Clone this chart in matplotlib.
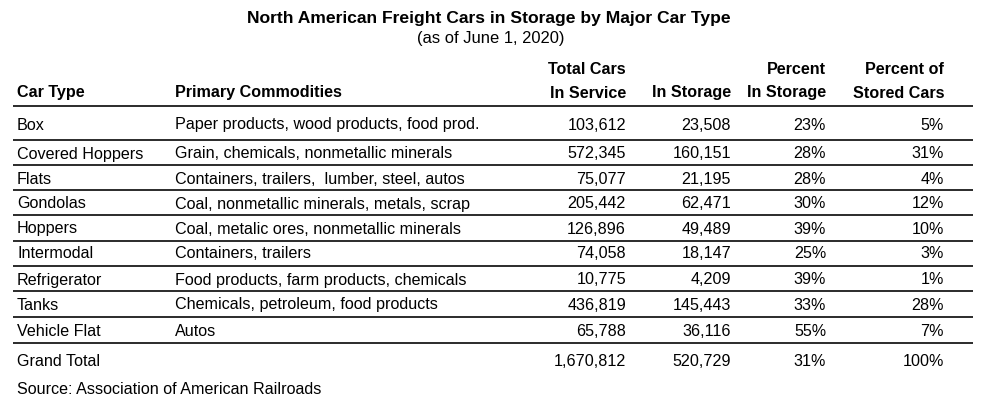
import matplotlib
matplotlib.use("Agg")
import matplotlib.pyplot as plt

plt.rcParams["font.family"] = ["Liberation Sans", "DejaVu Sans"]

title = "North American Freight Cars in Storage by Major Car Type"
subtitle = "(as of June 1, 2020)"
source = "Source: Association of American Railroads"

car_types = ["Box", "Covered Hoppers", "Flats", "Gondolas", "Hoppers",
             "Intermodal", "Refrigerator", "Tanks", "Vehicle Flat"]
commodities = [
    "Paper products, wood products, food prod.",
    "Grain, chemicals, nonmetallic minerals",
    "Containers, trailers,  lumber, steel, autos",
    "Coal, nonmetallic minerals, metals, scrap",
    "Coal, metalic ores, nonmetallic minerals",
    "Containers, trailers",
    "Food products, farm products, chemicals",
    "Chemicals, petroleum, food products",
    "Autos",
]
in_service = [103612, 572345, 75077, 205442, 126896, 74058, 10775, 436819, 65788]
in_storage = [23508, 160151, 21195, 62471, 49489, 18147, 4209, 145443, 36116]
pct_in_storage = [23, 28, 28, 30, 39, 25, 39, 33, 55]
pct_of_stored = [5, 31, 4, 12, 10, 3, 1, 28, 7]
total_label = "Grand Total"
total_service = 1670812
total_storage = 520729
total_pct_storage = 31
total_pct_stored = 100

# column anchors in pixels (left for text, right for numbers)
X_TYPE, X_COMM = 17, 175
X_NUM = [626, 731, 826, 944]
LINE_X = (13, 973)
FS = 11.6
BASE = 5.5  # offset from row centre to text baseline, px

fig = plt.figure(figsize=(9.88, 4.04), dpi=100)
ax = fig.add_axes([0, 0, 1, 1])
ax.set_xlim(0, 988)
ax.set_ylim(404, 0)
ax.axis("off")


def cell(x, y, s, ha="left", **kw):
    ax.text(x, y + BASE, s, ha=ha, va="baseline", fontsize=FS, **kw)


ax.text(489, 17 + 6, title, ha="center", va="baseline", fontsize=12.6, fontweight="bold")
ax.text(491, 38 + 5.5, subtitle, ha="center", va="baseline", fontsize=11.9)

# header
cell(X_TYPE, 92, "Car Type", fontweight="bold")
cell(X_COMM, 92, "Primary Commodities", fontweight="bold")
for x, top, bottom in zip(X_NUM,
                          ["Total Cars", "", "Percent", "Percent of"],
                          ["In Service", "In Storage", "In Storage", "Stored Cars"]):
    if top:
        cell(x, 69, top, ha="right", fontweight="bold")
    cell(x, 92, bottom, ha="right", fontweight="bold")

row_y = [124, 153, 178, 203, 228, 253, 279, 304, 330]
line_y = [106, 140, 165, 190, 215, 241, 266, 291, 317, 343]
for y in line_y:
    ax.plot(LINE_X, (y, y), color="#2b2b2b", lw=1.4, solid_capstyle="butt")

for i, y in enumerate(row_y):
    cell(X_TYPE, y, car_types[i])
    cell(X_COMM, y, commodities[i])
    vals = [f"{in_service[i]:,}", f"{in_storage[i]:,}",
            f"{pct_in_storage[i]}%", f"{pct_of_stored[i]}%"]
    for x, v in zip(X_NUM, vals):
        cell(x, y, v, ha="right")

ty = 361
cell(X_TYPE, ty, total_label)
for x, v in zip(X_NUM, [f"{total_service:,}", f"{total_storage:,}",
                        f"{total_pct_storage}%", f"{total_pct_stored}%"]):
    cell(x, ty, v, ha="right")

cell(X_TYPE, 389, source)

fig.savefig("out.png", dpi=100, facecolor="white")
